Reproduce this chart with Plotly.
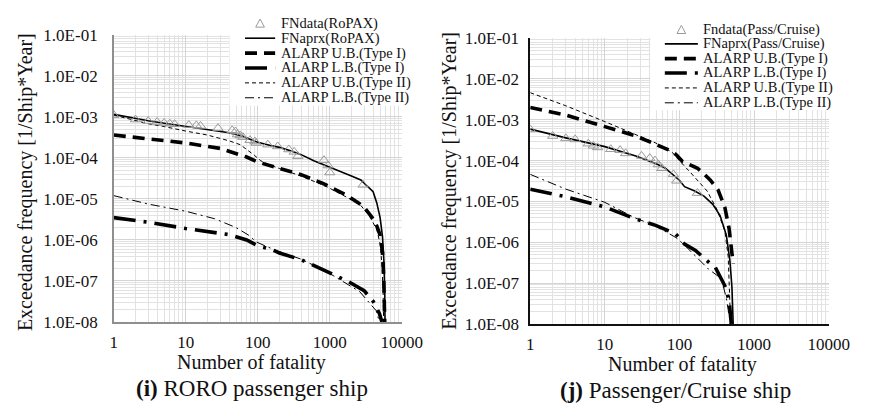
import plotly.graph_objects as go

# ---------------- data ----------------
# (i) RORO passenger ship
ro_data_n = [1, 2, 3, 4, 5, 6, 7, 11, 14, 16, 28, 44, 49, 52, 57, 62, 78, 91, 95, 138, 189, 270, 320, 360, 830, 950, 1000, 2900]
ro_data_f = [1.1e-3, 8.6e-4, 7.9e-4, 7.5e-4, 7.1e-4, 6.8e-4, 6.6e-4, 6.3e-4, 6.2e-4, 6.0e-4, 5.3e-4, 4.7e-4, 4.4e-4, 3.7e-4,
             3.5e-4, 3.2e-4, 2.7e-4, 2.5e-4, 2.3e-4, 2.1e-4, 1.9e-4, 1.6e-4, 1.4e-4, 1.1e-4, 8.8e-5, 6.5e-5, 4.4e-5, 2.2e-5]

ro_fn_n = [1, 2, 3, 5, 10, 20, 40, 60, 80, 100, 150, 200, 300, 400, 600, 1000, 1500, 2000, 2700, 3300, 4000, 4500, 5000, 5400, 5650, 5800, 5850]
ro_fn_f = [1.15e-3, 9.0e-4, 8.0e-4, 7.0e-4, 5.9e-4, 5.0e-4, 4.1e-4, 3.4e-4, 2.8e-4, 2.4e-4, 2.0e-4, 1.8e-4, 1.45e-4, 1.2e-4,
           8.5e-5, 6.0e-5, 4.4e-5, 3.6e-5, 2.9e-5, 2.1e-5, 1.5e-5, 8e-6, 3.5e-6, 1.2e-6, 3e-7, 5e-8, 1e-8]

ro_ub1_n = [1, 3, 10, 30, 50, 70, 100, 150, 200, 400, 800, 1200, 1750, 2500, 3000, 4000, 4500, 5000, 5400, 5600, 5750, 5800]
ro_ub1_f = [3.6e-4, 2.9e-4, 2.3e-4, 1.7e-4, 1.3e-4, 1.05e-4, 7.9e-5, 6.5e-5, 5.6e-5, 3.9e-5, 2.4e-5, 1.7e-5, 1.2e-5, 8e-6,
            6.3e-6, 3.3e-6, 2.2e-6, 1.3e-6, 5e-7, 1.5e-7, 3e-8, 1e-8]

ro_lb1_n = [1, 3, 10, 40, 70, 100, 150, 200, 400, 850, 1750, 3000, 4000, 4900, 5300]
ro_lb1_f = [3.5e-6, 2.7e-6, 1.9e-6, 1.35e-6, 1.0e-6, 7.2e-7, 6.0e-7, 4.8e-7, 3.3e-7, 1.8e-7, 1.0e-7, 5.8e-8, 3.2e-8, 1.6e-8, 1e-8]

ro_ub2_n = [1, 2, 3, 5, 7, 10, 20, 40, 57, 75, 90, 110, 150, 200, 400, 900, 1500, 2600, 3500, 4500, 5000, 5300, 5500, 5600]
ro_ub2_f = [1.1e-3, 8.2e-4, 6.8e-4, 5.8e-4, 5.1e-4, 4.5e-4, 3.6e-4, 2.6e-4, 2.1e-4, 1.5e-4, 1.15e-4, 8.5e-5, 6.6e-5, 5.5e-5,
            3.6e-5, 2.0e-5, 1.25e-5, 7.5e-6, 4e-6, 1.8e-6, 8e-7, 2.5e-7, 6e-8, 1e-8]

ro_lb2_n = [1, 3, 10, 25, 50, 75, 95, 130, 200, 400, 900, 2600, 4400, 4900]
ro_lb2_f = [1.2e-5, 7.5e-6, 5.0e-6, 3.3e-6, 2.0e-6, 1.3e-6, 9e-7, 7e-7, 5.2e-7, 3.4e-7, 1.7e-7, 5.5e-8, 1.9e-8, 1e-8]

# (j) Passenger/Cruise ship
pc_data_n = [1, 2, 3, 4, 6, 7, 8, 12, 16, 19, 31, 40, 47, 52, 58, 83, 92, 174]
pc_data_f = [5.8e-4, 4.0e-4, 3.5e-4, 3.3e-4, 2.6e-4, 2.3e-4, 2.1e-4, 1.9e-4, 1.8e-4, 1.5e-4, 1.3e-4, 1.15e-4, 1.0e-4, 8e-5,
             6.5e-5, 4.6e-5, 3.2e-5, 1.6e-5]

pc_fn_n = [1, 3, 10, 26, 48, 64, 100, 117, 160, 213, 280, 350, 425, 473, 505, 525]
pc_fn_f = [5.9e-4, 3.6e-4, 2.2e-4, 1.3e-4, 8.5e-5, 6.6e-5, 3.3e-5, 2.3e-5, 1.8e-5, 1.35e-5, 8.5e-6, 4.5e-6, 1.5e-6, 3.7e-7, 8e-8, 1e-8]

pc_ub1_n = [1, 3, 10, 26, 48, 78, 90, 110, 123, 175, 213, 260, 330, 406, 462, 500, 524]
pc_ub1_f = [2.0e-3, 1.3e-3, 6.8e-4, 4.0e-4, 2.5e-4, 1.7e-4, 1.4e-4, 9.5e-5, 8.7e-5, 6.5e-5, 4.7e-5, 3.3e-5, 1.9e-5, 7.1e-6,
            2.2e-6, 7.5e-7, 3e-7]

pc_lb1_n = [1, 3, 10, 25, 48, 89, 117, 164, 260, 300, 425, 468, 495]
pc_lb1_f = [2.0e-5, 1.3e-5, 7.3e-6, 3.8e-6, 2.6e-6, 1.6e-6, 9e-7, 6.3e-7, 3e-7, 2.5e-7, 7.3e-8, 3e-8, 1e-8]

pc_ub2_n = [1, 3, 10, 26, 48, 80, 95, 142, 235, 316, 406, 450, 473, 485]
pc_ub2_f = [4.6e-3, 2.2e-3, 9.0e-4, 4.4e-4, 2.7e-4, 1.6e-4, 1.1e-4, 5e-5, 1.8e-5, 6.5e-6, 1.9e-6, 4.4e-7, 4e-8, 1e-8]

pc_lb2_n = [1, 3, 10, 25, 48, 90, 110, 245, 363, 425, 468, 478]
pc_lb2_f = [4.6e-5, 2.0e-5, 9.5e-6, 4.0e-6, 2.5e-6, 1.3e-6, 9.5e-7, 2.2e-7, 1.3e-7, 4.3e-8, 1.4e-8, 1e-8]

x_tick_vals = [1, 10, 100, 1000, 10000]
x_tick_text = ["1", "10", "100", "1000", "10000"]
y_tick_vals = [1e-8, 1e-7, 1e-6, 1e-5, 1e-4, 1e-3, 1e-2, 1e-1]
y_tick_text = ["1.0E-08", "1.0E-07", "1.0E-06", "1.0E-05", "1.0E-04", "1.0E-03", "1.0E-02", "1.0E-01"]

legend_left = ["FNdata(RoPAX)", "FNaprx(RoPAX)", "ALARP U.B.(Type I)", "ALARP L.B.(Type I)",
               "ALARP U.B.(Type II)", "ALARP L.B.(Type II)"]
legend_right = ["Fndata(Pass/Cruise)", "FNaprx(Pass/Cruise)", "ALARP U.B.(Type I)", "ALARP L.B.(Type I)",
                "ALARP U.B.(Type II)", "ALARP L.B.(Type II)"]
captions = ["<b>(i)</b> RORO passenger ship", "<b>(j)</b> Passenger/Cruise ship"]

# ---------------- styling ----------------
W, H = 887, 416
FONT = "Liberation Serif, Times New Roman, serif"
GRAY_MK = "#9a9a9a"

STY = {
    "fn":  dict(color="black", width=1.6, dash="solid"),
    "ub1": dict(color="black", width=3.6, dash="12px,7px"),
    "lb1": dict(color="black", width=3.6, dash="22px,8px,3px,8px"),
    "ub2": dict(color="black", width=1.0, dash="4px,3px"),
    "lb2": dict(color="black", width=1.0, dash="9px,4px,2px,4px"),
}


def fx(p):
    return p / W


def fy(p):
    return 1 - p / H


fig = go.Figure()

sets = [
    ("x", "y", ro_data_n, ro_data_f, [(ro_fn_n, ro_fn_f, "fn"), (ro_ub1_n, ro_ub1_f, "ub1"), (ro_lb1_n, ro_lb1_f, "lb1"),
                                      (ro_ub2_n, ro_ub2_f, "ub2"), (ro_lb2_n, ro_lb2_f, "lb2")]),
    ("x2", "y2", pc_data_n, pc_data_f, [(pc_fn_n, pc_fn_f, "fn"), (pc_ub1_n, pc_ub1_f, "ub1"), (pc_lb1_n, pc_lb1_f, "lb1"),
                                        (pc_ub2_n, pc_ub2_f, "ub2"), (pc_lb2_n, pc_lb2_f, "lb2")]),
]
for xa, ya, dn, df, curves in sets:
    for n, f, key in curves:
        fig.add_trace(go.Scatter(x=n, y=f, mode="lines", line=STY[key], xaxis=xa, yaxis=ya,
                                 showlegend=False, hoverinfo="skip"))
    fig.add_trace(go.Scatter(x=dn, y=df, mode="markers", xaxis=xa, yaxis=ya, showlegend=False,
                             marker=dict(symbol="triangle-up-open", size=9, color=GRAY_MK, line=dict(width=1))))

# plot boxes in pixels: (left, right, top, bottom)
boxes = [(113, 409.3, 27, 328), (541.5, 848.6, 30.5, 330)]
minor_x = [k * 10 ** e for e in range(0, 4) for k in range(2, 10)]
minor_y = [k * 10.0 ** e for e in range(-8, -1) for k in range(2, 10)]
axis_line_colors = ["#8f8f8f", "#111111"]
y_standoff = [11, 6]

for i, (l, r, t, b) in enumerate(boxes):
    sx = "" if i == 0 else "2"
    common_grid = dict(showgrid=True, gridcolor="#d4d4d4", gridwidth=1.3, zeroline=False,
                       showline=True, linecolor=axis_line_colors[i], linewidth=1.5, mirror=False,
                       ticks="", tickfont=dict(family=FONT, size=17, color="#111"))
    fig.layout["xaxis" + sx] = dict(
        type="log", range=[0, 4], domain=[fx(l), fx(r)], anchor="y" + sx,
        tickmode="array", tickvals=x_tick_vals, ticktext=x_tick_text, ticklabelstandoff=4,
        minor=dict(tickmode="array", tickvals=minor_x, showgrid=True, gridcolor="#e2e2e2", gridwidth=1),
        **common_grid)
    fig.layout["yaxis" + sx] = dict(
        type="log", range=[-8, -1], domain=[fy(b), fy(t)], anchor="x" + sx,
        tickmode="array", tickvals=y_tick_vals, ticktext=y_tick_text, ticklabelstandoff=y_standoff[i],
        minor=dict(tickmode="array", tickvals=minor_y, showgrid=True, gridcolor="#e2e2e2", gridwidth=1),
        **common_grid)

# ---------------- manual legends (white boxes, samples, texts) ----------------
shapes = []
annotations = []
legend_specs = [
    # box (l, t, r, b), sample x0, x1, text x, row y's, labels
    ((232, 0, 410, 101), 248, 279, 283, [15, 30.6, 46.2, 61.8, 77.4, 93], legend_left),
    ((665, 8, 849, 106), 680, 714, 717, [21.7, 36.5, 52, 67, 82.7, 98.3], legend_right),
]
for (bl, bt, br, bb), s0, s1, tx, rows, labels in legend_specs:
    shapes.append(dict(type="rect", xref="paper", yref="paper", x0=fx(bl), x1=fx(br), y0=fy(bb), y1=fy(bt),
                       fillcolor="white", line=dict(width=0), layer="above"))
    # triangle marker sample
    cx, cy = (s0 + s1) / 2, rows[0]
    path = "M{},{} L{},{} L{},{} Z".format(fx(cx - 4.5), fy(cy + 4), fx(cx + 4.5), fy(cy + 4), fx(cx), fy(cy - 4.5))
    shapes.append(dict(type="path", xref="paper", yref="paper", path=path,
                       line=dict(color=GRAY_MK, width=1), layer="above"))
    for key, yy in zip(["fn", "ub1", "lb1", "ub2", "lb2"], rows[1:]):
        shapes.append(dict(type="line", xref="paper", yref="paper", x0=fx(s0), x1=fx(s1), y0=fy(yy), y1=fy(yy),
                           line=STY[key], layer="above"))
    for lab, yy in zip(labels, rows):
        annotations.append(dict(text=lab, xref="paper", yref="paper", x=fx(tx), y=fy(yy), xanchor="left",
                                yanchor="middle", showarrow=False, font=dict(family=FONT, size=14.5, color="#111")))

# axis titles and captions
title_font = dict(family=FONT, size=20, color="#111")
for cx, cy in [(255, 370), (698, 372)]:
    annotations.append(dict(text="Number of fatality", xref="paper", yref="paper", x=fx(cx), y=fy(cy),
                            xanchor="center", yanchor="middle", showarrow=False, font=title_font))
for cx, cy in [(22, 181), (459, 180)]:
    annotations.append(dict(text="Exceedance frequency [1/Ship*Year]", xref="paper", yref="paper", x=fx(cx),
                            y=fy(cy), xanchor="center", yanchor="middle", textangle=-90, showarrow=False,
                            font=title_font))
for cap, (cx, cy) in zip(captions, [(255, 398), (691, 400)]):
    annotations.append(dict(text=cap, xref="paper", yref="paper", x=fx(cx), y=fy(cy), xanchor="center",
                            yanchor="middle", showarrow=False, font=dict(family=FONT, size=23, color="#111")))

fig.update_layout(width=W, height=H, margin=dict(l=0, r=0, t=0, b=0), paper_bgcolor="white",
                  plot_bgcolor="white", showlegend=False, shapes=shapes, annotations=annotations)

fig.write_html("out.html")
